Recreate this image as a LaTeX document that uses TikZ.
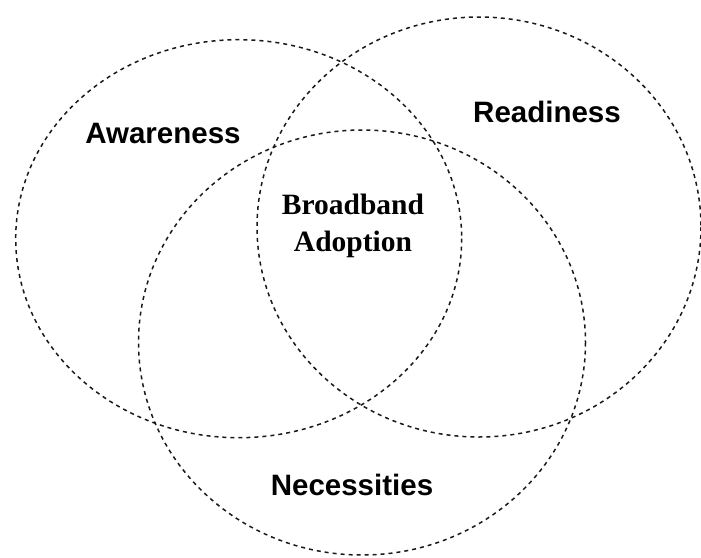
\documentclass[tikz,border=0pt]{standalone}
\usepackage{fontspec}
\setmainfont{Liberation Serif}
\newfontfamily\labelfont{Liberation Sans}
\newlength{\du}
\setlength{\du}{1pt}
\tikzset{
  vennline/.style={draw=black!90, line width=1.5\du, dash pattern=on 4\du off 4\du},
  setlabel/.style={font=\labelfont\bfseries\fontsize{29.5}{35}\selectfont, inner sep=0pt},
  corelabel/.style={font=\bfseries\fontsize{29.5}{37}\selectfont, align=center, inner sep=0pt}
}

\begin{document}
\begin{tikzpicture}
\pgftransformxscale{1.000000}
\pgftransformyscale{-1.000000}
\useasboundingbox (0\du,0\du) rectangle (701\du,557\du);
% Awareness
\draw[vennline] (238.7\du,238.7\du) ellipse [x radius=223\du, y radius=199\du];
% Readiness
\draw[vennline] (479.0\du,227.0\du) ellipse [x radius=222\du, y radius=210\du];
% Necessities
\draw[vennline] (362.0\du,342.5\du) ellipse [x radius=223.5\du, y radius=212.5\du];
% labels
\node[setlabel] (awareness) at (163\du,133\du){Awareness};
\node[setlabel] (readiness) at (547\du,112\du){Readiness};
\node[setlabel] (necessities) at (352\du,485\du){Necessities};
\node[corelabel] (adoption) at (353\du,226\du){Broadband\\Adoption};
\end{tikzpicture}
\end{document}
